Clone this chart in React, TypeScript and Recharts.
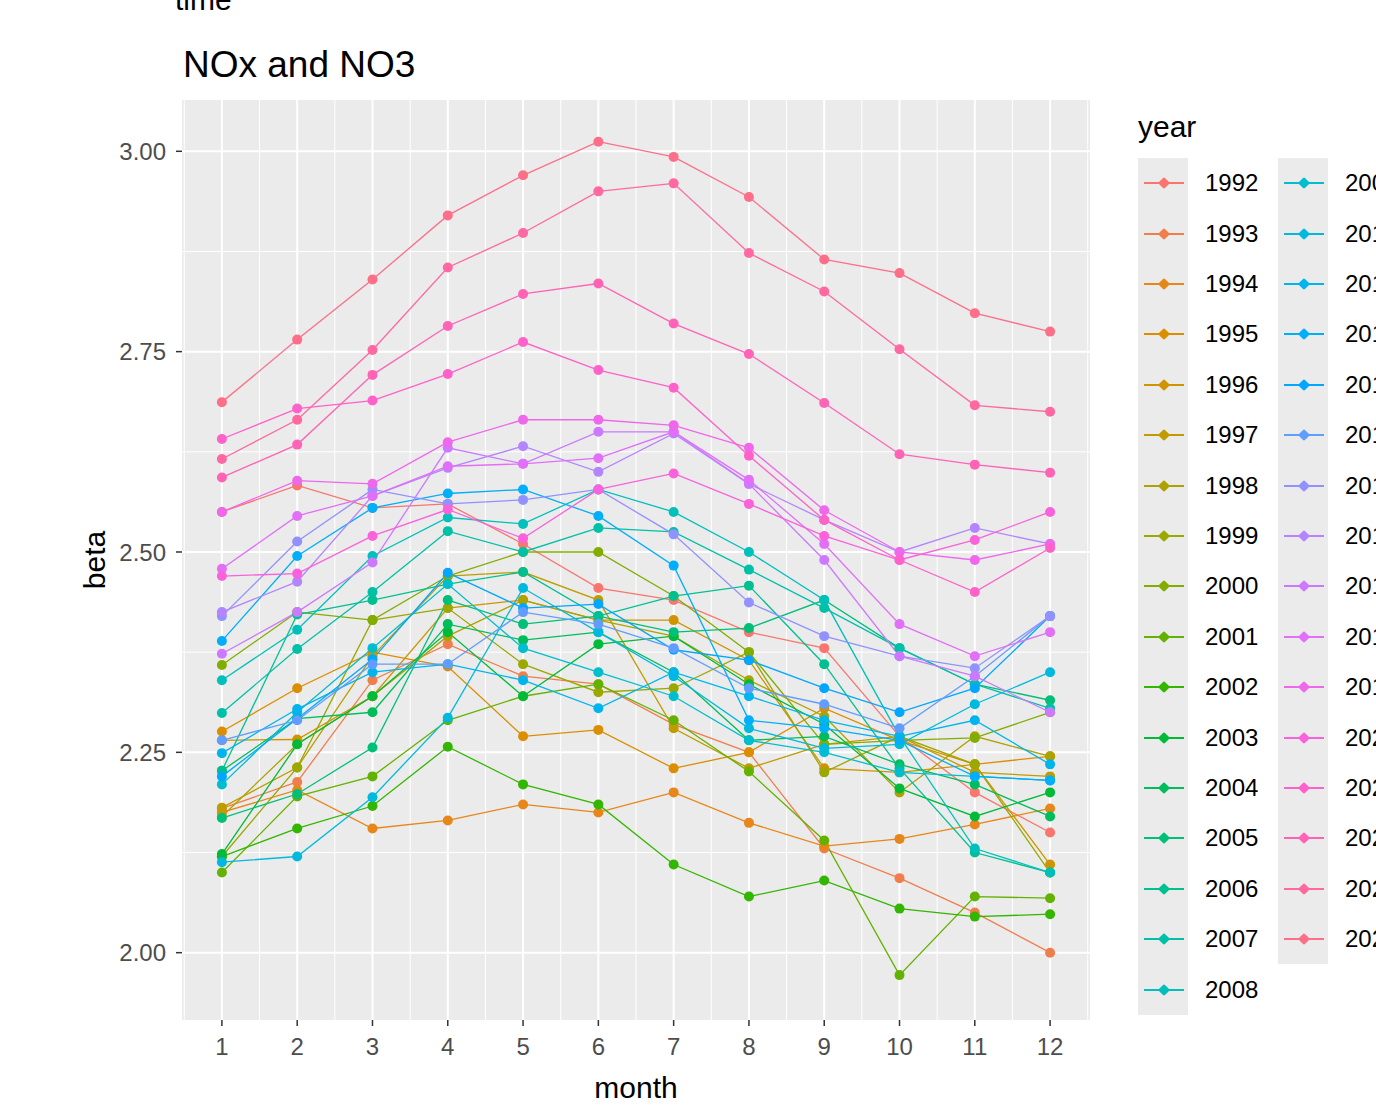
import React from 'react';
import { LineChart, Line, XAxis, YAxis, CartesianGrid } from 'recharts';

const MONTHS = [1, 2, 3, 4, 5, 6, 7, 8, 9, 10, 11, 12];
const X_TICKS = [1, 2, 3, 4, 5, 6, 7, 8, 9, 10, 11, 12];
const X_MINOR = [0.5, 1.5, 2.5, 3.5, 4.5, 5.5, 6.5, 7.5, 8.5, 9.5, 10.5, 11.5, 12.5];
const Y_TICKS = [2, 2.25, 2.5, 2.75, 3];
const Y_MINOR = [2.125, 2.375, 2.625, 2.875];

const v1992 = [2.55, 2.583, 2.555, 2.56, 2.51, 2.455, 2.44, 2.4, 2.38, 2.27, 2.2, 2.15];
const v1993 = [2.18, 2.213, 2.34, 2.385, 2.345, 2.335, 2.285, 2.25, 2.13, 2.093, 2.05, 2.0];
const v1994 = [2.175, 2.203, 2.155, 2.165, 2.185, 2.175, 2.2, 2.162, 2.133, 2.142, 2.16, 2.18];
const v1995 = [2.276, 2.33, 2.375, 2.357, 2.27, 2.278, 2.23, 2.25, 2.305, 2.265, 2.235, 2.245];
const v1996 = [2.265, 2.266, 2.32, 2.43, 2.44, 2.415, 2.415, 2.365, 2.23, 2.225, 2.235, 2.11];
const v1997 = [2.181, 2.231, 2.37, 2.47, 2.475, 2.44, 2.28, 2.23, 2.26, 2.27, 2.225, 2.22];
const v1998 = [2.17, 2.26, 2.32, 2.395, 2.44, 2.415, 2.395, 2.34, 2.295, 2.2, 2.27, 2.245];
const v1999 = [2.12, 2.231, 2.415, 2.43, 2.36, 2.325, 2.33, 2.375, 2.225, 2.27, 2.235, 2.1];
const v2000 = [2.359, 2.425, 2.415, 2.47, 2.5, 2.5, 2.445, 2.375, 2.26, 2.265, 2.268, 2.3];
const v2001 = [2.1, 2.195, 2.22, 2.29, 2.32, 2.335, 2.29, 2.226, 2.14, 1.972, 2.07, 2.068];
const v2002 = [2.12, 2.155, 2.183, 2.257, 2.21, 2.185, 2.11, 2.07, 2.09, 2.055, 2.045, 2.048];
const v2003 = [2.123, 2.26, 2.32, 2.4, 2.32, 2.385, 2.395, 2.335, 2.285, 2.205, 2.17, 2.2];
const v2004 = [2.227, 2.292, 2.3, 2.41, 2.39, 2.4, 2.35, 2.265, 2.27, 2.235, 2.21, 2.17];
const v2005 = [2.168, 2.198, 2.256, 2.44, 2.41, 2.42, 2.4, 2.405, 2.44, 2.38, 2.335, 2.315];
const v2006 = [2.227, 2.422, 2.44, 2.46, 2.475, 2.42, 2.445, 2.458, 2.36, 2.23, 2.125, 2.1];
const v2007 = [2.299, 2.379, 2.45, 2.526, 2.5, 2.53, 2.525, 2.478, 2.43, 2.38, 2.335, 2.305];
const v2008 = [2.34, 2.403, 2.495, 2.543, 2.535, 2.578, 2.55, 2.5, 2.44, 2.27, 2.13, 2.1];
const v2009 = [2.21, 2.3, 2.38, 2.46, 2.38, 2.35, 2.32, 2.265, 2.25, 2.225, 2.22, 2.215];
const v2010 = [2.113, 2.12, 2.194, 2.293, 2.455, 2.4, 2.345, 2.28, 2.255, 2.26, 2.31, 2.35];
const v2011 = [2.249, 2.304, 2.35, 2.36, 2.34, 2.305, 2.35, 2.32, 2.29, 2.27, 2.29, 2.235];
const v2012 = [2.389, 2.495, 2.555, 2.573, 2.578, 2.545, 2.483, 2.29, 2.28, 2.265, 2.22, 2.215];
const v2013 = [2.22, 2.292, 2.366, 2.474, 2.43, 2.435, 2.378, 2.365, 2.33, 2.3, 2.33, 2.42];
const v2014 = [2.265, 2.29, 2.36, 2.36, 2.425, 2.41, 2.38, 2.33, 2.31, 2.28, 2.345, 2.42];
const v2015 = [2.42, 2.513, 2.578, 2.56, 2.565, 2.578, 2.522, 2.437, 2.395, 2.37, 2.355, 2.42];
const v2016 = [2.425, 2.463, 2.57, 2.605, 2.632, 2.6, 2.648, 2.585, 2.54, 2.5, 2.53, 2.51];
const v2017 = [2.373, 2.425, 2.487, 2.63, 2.61, 2.65, 2.65, 2.585, 2.49, 2.37, 2.345, 2.3];
const v2018 = [2.479, 2.545, 2.57, 2.607, 2.61, 2.617, 2.65, 2.59, 2.51, 2.41, 2.37, 2.4];
const v2019 = [2.55, 2.589, 2.585, 2.637, 2.665, 2.665, 2.658, 2.63, 2.552, 2.5, 2.49, 2.51];
const v2020 = [2.47, 2.473, 2.52, 2.553, 2.517, 2.578, 2.598, 2.56, 2.52, 2.49, 2.515, 2.55];
const v2021 = [2.641, 2.679, 2.689, 2.722, 2.762, 2.727, 2.705, 2.62, 2.54, 2.49, 2.45, 2.505];
const v2022 = [2.593, 2.634, 2.721, 2.782, 2.822, 2.835, 2.785, 2.747, 2.686, 2.622, 2.609, 2.599];
const v2023 = [2.616, 2.665, 2.752, 2.855, 2.898, 2.95, 2.96, 2.873, 2.825, 2.753, 2.683, 2.675];
const v2024 = [2.687, 2.765, 2.84, 2.92, 2.97, 3.012, 2.993, 2.943, 2.865, 2.848, 2.798, 2.775];

const YEARS = [
  '1992', '1993', '1994', '1995', '1996', '1997', '1998', '1999', '2000', '2001', '2002',
  '2003', '2004', '2005', '2006', '2007', '2008', '2009', '2010', '2011', '2012', '2013',
  '2014', '2015', '2016', '2017', '2018', '2019', '2020', '2021', '2022', '2023', '2024',
];
const SERIES = [
  v1992, v1993, v1994, v1995, v1996, v1997, v1998, v1999, v2000, v2001, v2002,
  v2003, v2004, v2005, v2006, v2007, v2008, v2009, v2010, v2011, v2012, v2013,
  v2014, v2015, v2016, v2017, v2018, v2019, v2020, v2021, v2022, v2023, v2024,
];

// ggplot's default hue palette: hcl(h, c = 100, l = 65)
function hcl(h: number, c: number, l: number): string {
  const hr = (h * Math.PI) / 180;
  const U = c * Math.cos(hr);
  const V = c * Math.sin(hr);
  const Xn = 95.047, Yn = 100, Zn = 108.883;
  const Y = l > 8 ? Yn * Math.pow((l + 16) / 116, 3) : (Yn * l) / 903.3;
  const den = Xn + 15 * Yn + 3 * Zn;
  const u = U / (13 * l) + (4 * Xn) / den;
  const v = V / (13 * l) + (9 * Yn) / den;
  const X = (9 * Y * u) / (4 * v);
  const Z = -X / 3 - 5 * Y + (3 * Y) / v;
  const x = X / 100, y = Y / 100, z = Z / 100;
  const lin = [
    3.240479 * x - 1.53715 * y - 0.498535 * z,
    -0.969256 * x + 1.875992 * y + 0.041556 * z,
    0.055648 * x - 0.204043 * y + 1.057311 * z,
  ];
  return '#' + lin.map((ch) => {
    const g = ch > 0.0031308 ? 1.055 * Math.pow(ch, 1 / 2.4) - 0.055 : 12.92 * ch;
    const n = Math.round(Math.min(1, Math.max(0, g)) * 255);
    return n.toString(16).padStart(2, '0');
  }).join('');
}

const COLORS = YEARS.map((_, i) => hcl(15 + (i * 360) / YEARS.length, 100, 65));

const data = MONTHS.map((m, i) => {
  const row: Record<string, number> = { month: m };
  YEARS.forEach((yr, k) => {
    row[yr] = SERIES[k][i];
  });
  return row;
});

const FONT = '"Liberation Sans", Arial, sans-serif';

const LegendBlock: React.FC = () => {
  const rowH = 50.4;
  const top = 158;
  const cols = [
    { keyLeft: 1138, years: YEARS.slice(0, 17), offset: 0 },
    { keyLeft: 1278, years: YEARS.slice(17), offset: 17 },
  ];
  return (
    <>
      <div style={{ position: 'absolute', left: 1138, top: 112, fontSize: 30, lineHeight: '30px', color: '#000' }}>
        year
      </div>
      {cols.map((col, ci) => (
        <React.Fragment key={ci}>
          <div
            style={{
              position: 'absolute',
              left: col.keyLeft,
              top,
              width: 50,
              height: Math.round(rowH * col.years.length),
              background: '#EBEBEB',
            }}
          />
          {col.years.map((yr, i) => {
            const cy = Math.round(top + rowH * i + rowH / 2);
            const color = COLORS[col.offset + i];
            return (
              <React.Fragment key={yr}>
                <div style={{ position: 'absolute', left: col.keyLeft + 6, top: cy - 1, width: 40, height: 2, background: color }} />
                <div
                  style={{
                    position: 'absolute',
                    left: col.keyLeft + 21,
                    top: cy - 5,
                    width: 10,
                    height: 10,
                    transform: 'rotate(45deg) scale(0.85)',
                    borderRadius: 2,
                    background: color,
                  }}
                />
                <div
                  style={{
                    position: 'absolute',
                    left: col.keyLeft + 67,
                    top: cy - 13,
                    fontSize: 24,
                    lineHeight: '26px',
                    color: '#000',
                    whiteSpace: 'nowrap',
                  }}
                >
                  {yr}
                </div>
              </React.Fragment>
            );
          })}
        </React.Fragment>
      ))}
    </>
  );
};

const App: React.FC = () => {
  return (
    <div
      style={{
        position: 'absolute',
        left: 0,
        top: 0,
        width: 1376,
        height: 1115,
        overflow: 'hidden',
        background: '#fff',
        fontFamily: FONT,
      }}
    >
      <div style={{ position: 'absolute', left: 175, top: -15, fontSize: 30, lineHeight: '30px', color: '#000' }}>time</div>
      <div style={{ position: 'absolute', left: 183, top: 47, fontSize: 37, lineHeight: '36px', color: '#000' }}>
        NOx and NO3
      </div>
      <div
        style={{
          position: 'absolute',
          left: 0,
          top: 1073,
          width: 1272,
          textAlign: 'center',
          fontSize: 30,
          lineHeight: '30px',
          color: '#000',
        }}
      >
        month
      </div>
      <div
        style={{
          position: 'absolute',
          left: 95 - 60,
          top: 560 - 15,
          width: 120,
          textAlign: 'center',
          fontSize: 30,
          lineHeight: '30px',
          color: '#000',
          transform: 'rotate(-90deg)',
        }}
      >
        beta
      </div>

      <div style={{ position: 'absolute', left: 0, top: 0 }}>
        <LineChart width={1376} height={1115} data={data} margin={{ top: 100, right: 286, bottom: 35, left: 82 }}>
          <CartesianGrid
            fill="#EBEBEB"
            stroke="#FFFFFF"
            strokeWidth={1}
            horizontalValues={Y_MINOR}
            verticalValues={X_MINOR}
          />
          <CartesianGrid
            stroke="#FFFFFF"
            strokeWidth={2}
            horizontalValues={Y_TICKS}
            verticalValues={X_TICKS}
          />
          <XAxis
            dataKey="month"
            type="number"
            domain={[0.47, 12.53]}
            ticks={X_TICKS}
            allowDataOverflow
            axisLine={false}
            tickSize={6}
            tickMargin={12}
            height={60}
            tickLine={{ stroke: '#333333', strokeWidth: 1.5 }}
            tick={{ fill: '#4D4D4D', fontSize: 24, fontFamily: FONT }}
          />
          <YAxis
            type="number"
            domain={[1.916, 3.064]}
            ticks={Y_TICKS}
            allowDataOverflow
            axisLine={false}
            width={100}
            tickSize={6}
            tickMargin={10}
            tickFormatter={(v: number) => v.toFixed(2)}
            tickLine={{ stroke: '#333333', strokeWidth: 1.5 }}
            tick={{ fill: '#4D4D4D', fontSize: 24, fontFamily: FONT }}
          />
          {YEARS.map((yr, i) => (
            <Line
              key={yr}
              type="linear"
              dataKey={yr}
              stroke={COLORS[i]}
              strokeWidth={1.3}
              dot={{ r: 5, fill: COLORS[i], stroke: COLORS[i], strokeWidth: 0 }}
              activeDot={false}
              isAnimationActive={false}
            />
          ))}
        </LineChart>
      </div>

      <LegendBlock />
    </div>
  );
};

export default App;
